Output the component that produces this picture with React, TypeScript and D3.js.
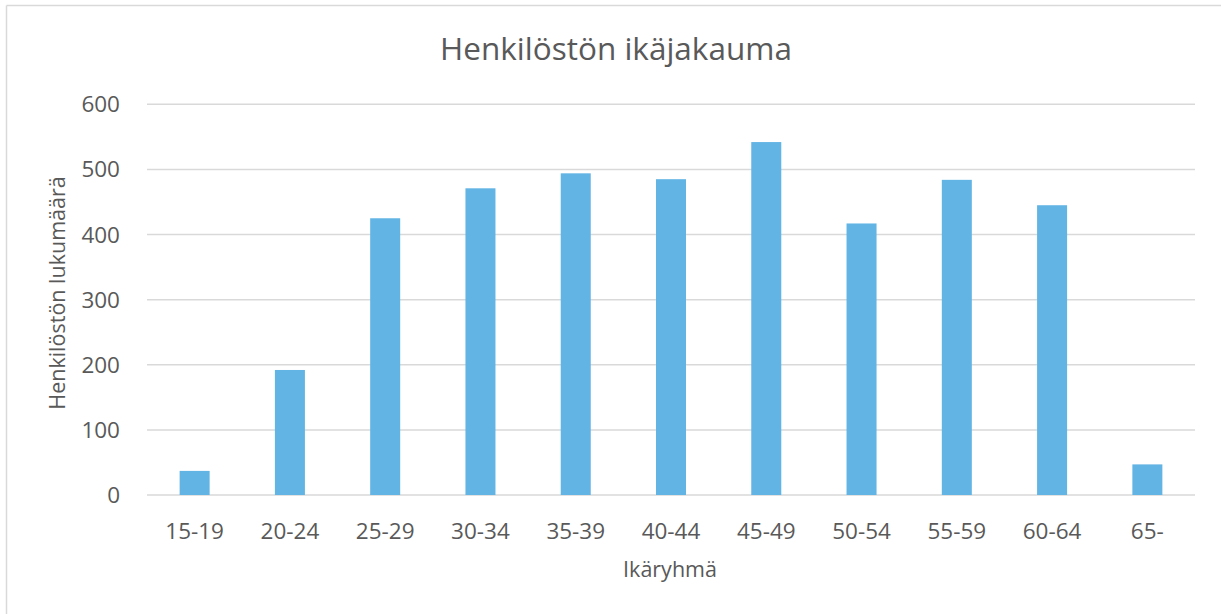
import React from "react";
import * as d3 from "d3";

const categories = ["15-19", "20-24", "25-29", "30-34", "35-39", "40-44", "45-49", "50-54", "55-59", "60-64", "65-"];
const values = [37, 192, 425, 471, 494, 485, 542, 417, 484, 445, 47];
const yTicks = [0, 100, 200, 300, 400, 500, 600];
const title = "Henkilöstön ikäjakauma";
const xTitle = "Ikäryhmä";
const yTitle = "Henkilöstön lukumäärä";

const W = 1221;
const H = 614;
const left = 147;
const right = 1195;
const top = 104.3;
const bottom = 495;
const font = "'Open Sans', sans-serif";
const textColor = "#595959";

export default function App() {
  const x = d3.scaleBand<string>().domain(categories).range([left, right]).paddingInner(0.685).paddingOuter(0.3425);
  const y = d3.scaleLinear().domain([0, 600]).range([bottom, top]);
  return (
    <svg width={W} height={H} style={{ position: "absolute", left: 0, top: 0, background: "#fff" }}>
      <rect x={0} y={0} width={W} height={H} fill="#fff" />
      <line x1={6.5} y1={5.5} x2={W} y2={5.5} stroke="#d9d9d9" strokeWidth={1.5} />
      <line x1={6.5} y1={5.5} x2={6.5} y2={H} stroke="#d9d9d9" strokeWidth={1.5} />
      <text x={616} y={60} textAnchor="middle" fontFamily={font} fontSize={31.5} fill={textColor}>{title}</text>
      {yTicks.map((t) => (
        <g key={t}>
          <line x1={left} x2={right} y1={y(t)} y2={y(t)} stroke="#d9d9d9" strokeWidth={1.5} />
          <text x={120} y={y(t) + 8} textAnchor="end" fontFamily={font} fontSize={22.5} fill={textColor}>{t}</text>
        </g>
      ))}
      {categories.map((c, i) => (
        <g key={c}>
          <rect x={x(c)} y={y(values[i])} width={x.bandwidth()} height={y(0) - y(values[i])} fill="#62b4e5" />
          <text x={(x(c) as number) + x.bandwidth() / 2} y={538.5} textAnchor="middle" fontFamily={font} fontSize={22.5} fill={textColor}>{c}</text>
        </g>
      ))}
      <text x={670} y={577} textAnchor="middle" fontFamily={font} fontSize={21.5} fill={textColor}>{xTitle}</text>
      <text transform={`translate(64.5,293) rotate(-90)`} textAnchor="middle" fontFamily={font} fontSize={21.5} fill={textColor}>{yTitle}</text>
    </svg>
  );
}
